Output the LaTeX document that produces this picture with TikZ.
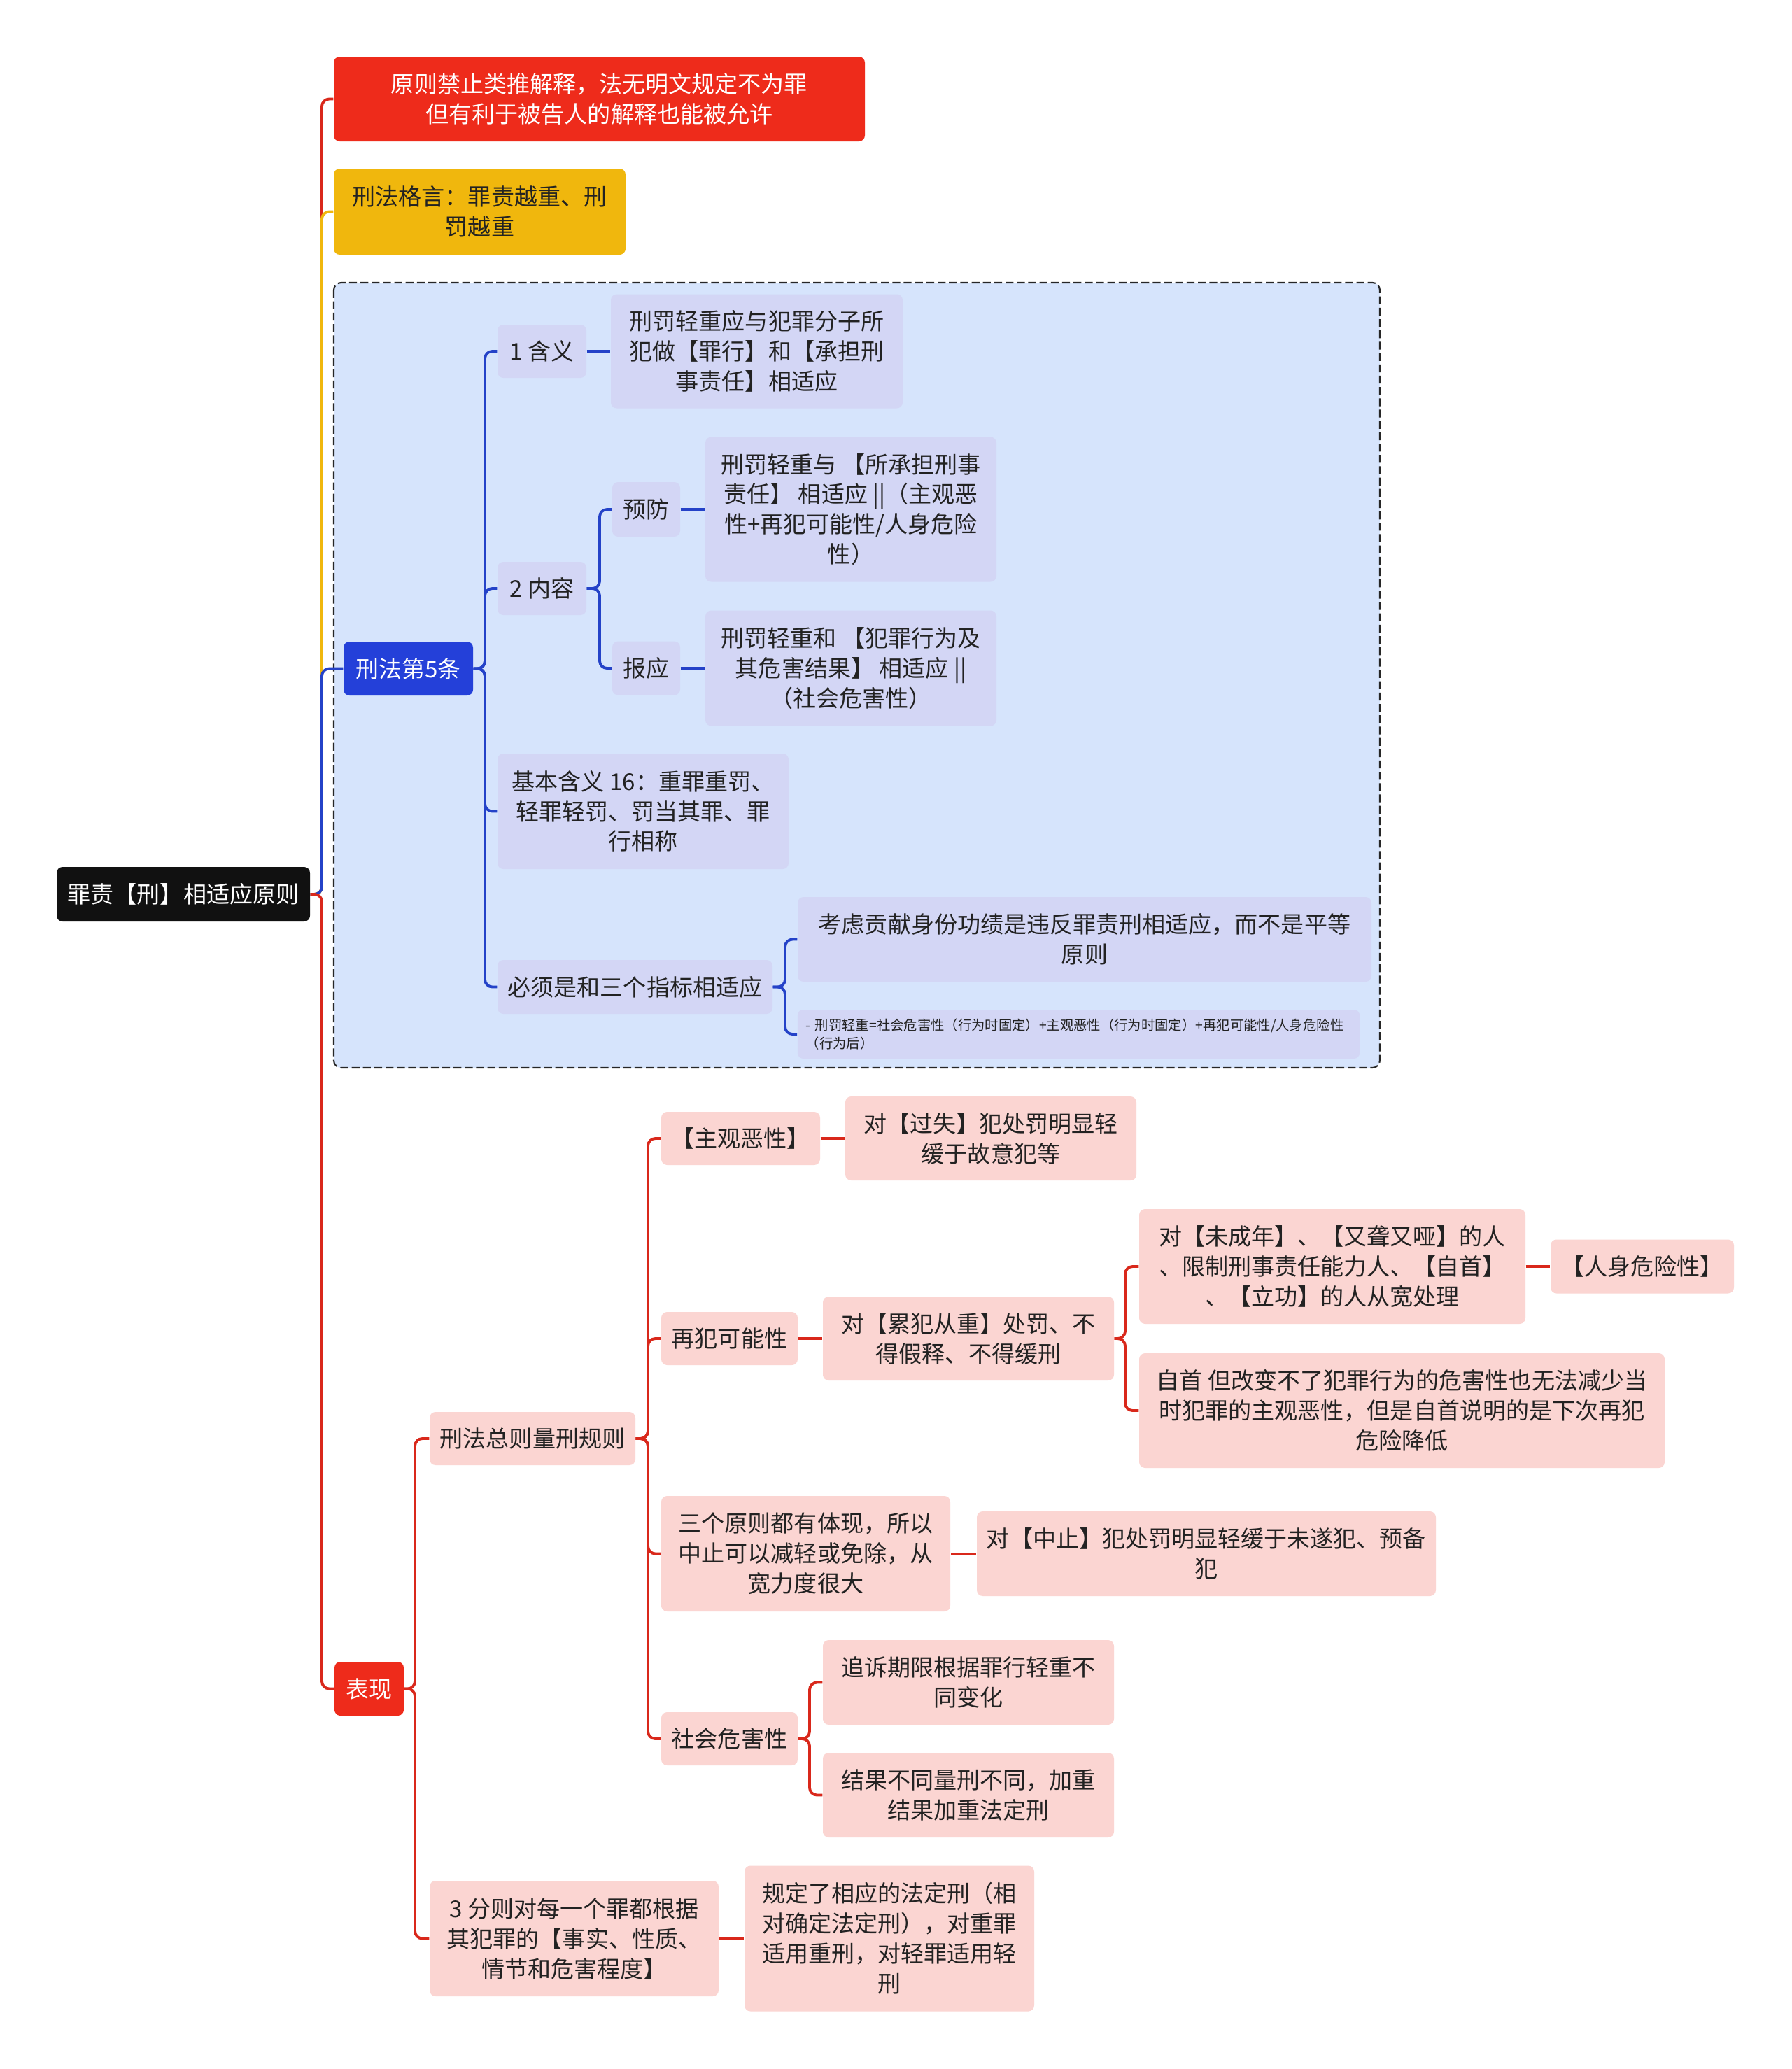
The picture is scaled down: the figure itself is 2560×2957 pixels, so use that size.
\documentclass[tikz,border=0pt]{standalone}
\usepackage{fontspec}
\setmainfont{Noto Sans CJK SC}
\definecolor{cBlack}{HTML}{111111}
\definecolor{cRed}{HTML}{EE2B1B}
\definecolor{cRedL}{HTML}{D9281B}
\definecolor{cYel}{HTML}{F0B70D}
\definecolor{cBlue}{HTML}{2440D9}
\definecolor{cBlueL}{HTML}{2442C8}
\definecolor{cBox}{HTML}{D6E4FC}
\definecolor{cLav}{HTML}{D3D6F5}
\definecolor{cPink}{HTML}{FBD5D2}
\definecolor{cDark}{HTML}{222222}
\newcommand\fsmain{\fontsize{9.4pt}{12.2pt}\selectfont}
\newcommand\fssmall{\fontsize{5.5pt}{7.6pt}\selectfont}
\tikzset{
  base/.style={rounded corners=2.4pt, inner sep=0pt, align=center, font=\fsmain},
  sz/.style 2 args={minimum width=#1*0.01cm, minimum height=#2*0.01cm},
  blk/.style={base, fill=cBlack, text=white},
  redn/.style={base, fill=cRed, text=white},
  yel/.style={base, fill=cYel, text=cDark},
  bluen/.style={base, fill=cBlue, text=white},
  lav/.style={base, fill=cLav, text=cDark},
  pink/.style={base, fill=cPink, text=cDark},
  lnR/.style={draw=cRedL, line width=1.1pt, rounded corners=3pt},
  lnY/.style={draw=cYel, line width=1.1pt, rounded corners=3pt},
  lnB/.style={draw=cBlueL, line width=1.1pt, rounded corners=3pt},
  dbox/.style={draw=black!85, fill=cBox, line width=0.6pt, dash pattern=on 3.2pt off 1.4pt, rounded corners=3pt}
}
\begin{document}
\begin{tikzpicture}[x=0.01cm,y=-0.01cm]
\useasboundingbox (0,0) rectangle (2560,2957);
\fill[white] (0,0) rectangle (2560,2957);

% dashed group
\draw[dbox] (477,404) rectangle (1972,1526);

% root and first level
\node[blk, sz={362}{78}] (root) at (262,1278) {罪责【刑】相适应原则};
\node[redn, sz={759}{121}] (n1) at (856.5,141.5) {原则禁止类推解释，法无明文规定不为罪\\但有利于被告人的解释也能被允许};
\node[yel, sz={417}{123}] (n2) at (685.5,302.5) {刑法格言：罪责越重、刑\\罚越重};
\node[bluen, sz={185}{77}] (fx5) at (583.5,955.5) {刑法第5条};
\node[redn, sz={99}{77}] (bx) at (527.5,2413.5) {表现};

% blue branch
\node[lav, sz={127}{76}] (hanyi) at (774.5,502) {1 含义};
\node[lav, sz={417}{163}] (hanyiC) at (1081.5,502) {刑罚轻重应与犯罪分子所\\犯做【罪行】和【承担刑\\事责任】相适应};
\node[lav, sz={127}{76}] (neirong) at (774.5,841) {2 内容};
\node[lav, sz={97}{78}] (yufang) at (923.5,728) {预防};
\node[lav, sz={416}{207}] (yufangC) at (1216,728) {刑罚轻重与 【所承担刑事\\责任】 相适应 ||（主观恶\\性+再犯可能性/人身危险\\性）};
\node[lav, sz={97}{77}] (baoying) at (923.5,955) {报应};
\node[lav, sz={416}{165}] (baoyingC) at (1216,955) {刑罚轻重和 【犯罪行为及\\其危害结果】 相适应 ||\\（社会危害性）};
\node[lav, sz={416}{165}] (jiben) at (919,1159.5) {基本含义 16：重罪重罚、\\轻罪轻罚、罚当其罪、罪\\行相称};
\node[lav, sz={393}{77}] (bixu) at (907.5,1410.5) {必须是和三个指标相适应};
\node[lav, sz={820}{121}] (kaolv) at (1550,1342.5) {考虑贡献身份功绩是违反罪责刑相适应，而不是平等\\原则};
\node[lav, sz={803}{70}, font=\fssmall, align=left, text width=7.79cm, inner xsep=0.12cm] (note) at (1541.5,1478) {- 刑罚轻重=社会危害性（行为时固定）+主观恶性（行为时固定）+再犯可能性/人身危险性\\（行为后）};

% red branch
\node[pink, sz={294}{76}] (zongze) at (761,2056) {刑法总则量刑规则};
\node[pink, sz={227}{76}] (zhuguan) at (1058.5,1627) {【主观恶性】};
\node[pink, sz={416}{120}] (guoshi) at (1416,1627) {对【过失】犯处罚明显轻\\缓于故意犯等};
\node[pink, sz={195}{76}] (zaifan) at (1042.5,1913) {再犯可能性};
\node[pink, sz={416}{120}] (leifan) at (1384,1913) {对【累犯从重】处罚、不\\得假释、不得缓刑};
\node[pink, sz={552}{164}] (wcn) at (1904,1810) {对【未成年】、【又聋又哑】的人\\、限制刑事责任能力人、【自首】\\、【立功】的人从宽处理};
\node[pink, sz={262}{77}] (renshen) at (2347,1810) {【人身危险性】};
\node[pink, sz={751}{164}] (zishou) at (2003.5,2016) {自首 但改变不了犯罪行为的危害性也无法减少当\\时犯罪的主观恶性，但是自首说明的是下次再犯\\危险降低};
\node[pink, sz={413}{165}] (sange) at (1151.5,2220.5) {三个原则都有体现，所以\\中止可以减轻或免除，从\\宽力度很大};
\node[pink, sz={656}{121}] (zhongzhi) at (1724,2220.5) {对【中止】犯处罚明显轻缓于未遂犯、预备\\犯};
\node[pink, sz={195}{76}] (shehui) at (1042.5,2485) {社会危害性};
\node[pink, sz={416}{121}] (zhuisu) at (1384,2404.5) {追诉期限根据罪行轻重不\\同变化};
\node[pink, sz={416}{121}] (jieguo) at (1384,2565.5) {结果不同量刑不同，加重\\结果加重法定刑};
\node[pink, sz={413}{165}] (fenze) at (820.5,2770.5) {3 分则对每一个罪都根据\\其犯罪的【事实、性质、\\情节和危害程度】};
\node[pink, sz={414}{208}] (guiding) at (1271,2770.5) {规定了相应的法定刑（相\\对确定法定刑），对重罪\\适用重刑，对轻罪适用轻\\刑};

% trunk coordinates
\coordinate (t0) at (460,1278);
\coordinate (t1) at (693,955.5);
\coordinate (t2) at (857,841);
\coordinate (t3) at (1122,1410.5);
\coordinate (t4) at (593,2413.5);
\coordinate (t5) at (926,2056);
\coordinate (t6) at (1608,1913);
\coordinate (t7) at (1157,2485);

% root connectors
\draw[lnR] (root.east) -- (t0) |- (n1.west);
\draw[lnY] (root.east) -- (t0) |- (n2.west);
\draw[lnB] (root.east) -- (t0) |- (fx5.west);
\draw[lnR] (root.east) -- (t0) |- (bx.west);

% blue connectors
\draw[lnB] (fx5.east) -- (t1) |- (hanyi.west);
\draw[lnB] (fx5.east) -- (t1) |- (neirong.west);
\draw[lnB] (fx5.east) -- (t1) |- (jiben.west);
\draw[lnB] (fx5.east) -- (t1) |- (bixu.west);
\draw[lnB] (hanyi.east) -- (hanyiC.west);
\draw[lnB] (neirong.east) -- (t2) |- (yufang.west);
\draw[lnB] (neirong.east) -- (t2) |- (baoying.west);
\draw[lnB] (yufang.east) -- (yufangC.west);
\draw[lnB] (baoying.east) -- (baoyingC.west);
\draw[lnB] (bixu.east) -- (t3) |- (kaolv.west);
\draw[lnB] (bixu.east) -- (t3) |- (note.west);

% red connectors
\draw[lnR] (bx.east) -- (t4) |- (zongze.west);
\draw[lnR] (bx.east) -- (t4) |- (fenze.west);
\draw[lnR] (zongze.east) -- (t5) |- (zhuguan.west);
\draw[lnR] (zongze.east) -- (t5) |- (zaifan.west);
\draw[lnR] (zongze.east) -- (t5) |- (sange.west);
\draw[lnR] (zongze.east) -- (t5) |- (shehui.west);
\draw[lnR] (zhuguan.east) -- (guoshi.west);
\draw[lnR] (zaifan.east) -- (leifan.west);
\draw[lnR] (leifan.east) -- (t6) |- (wcn.west);
\draw[lnR] (leifan.east) -- (t6) |- (zishou.west);
\draw[lnR] (wcn.east) -- (renshen.west);
\draw[lnR] (sange.east) -- (zhongzhi.west);
\draw[lnR] (shehui.east) -- (t7) |- (zhuisu.west);
\draw[lnR] (shehui.east) -- (t7) |- (jieguo.west);
\draw[lnR] (fenze.east) -- (guiding.west);
\end{tikzpicture}
\end{document}
